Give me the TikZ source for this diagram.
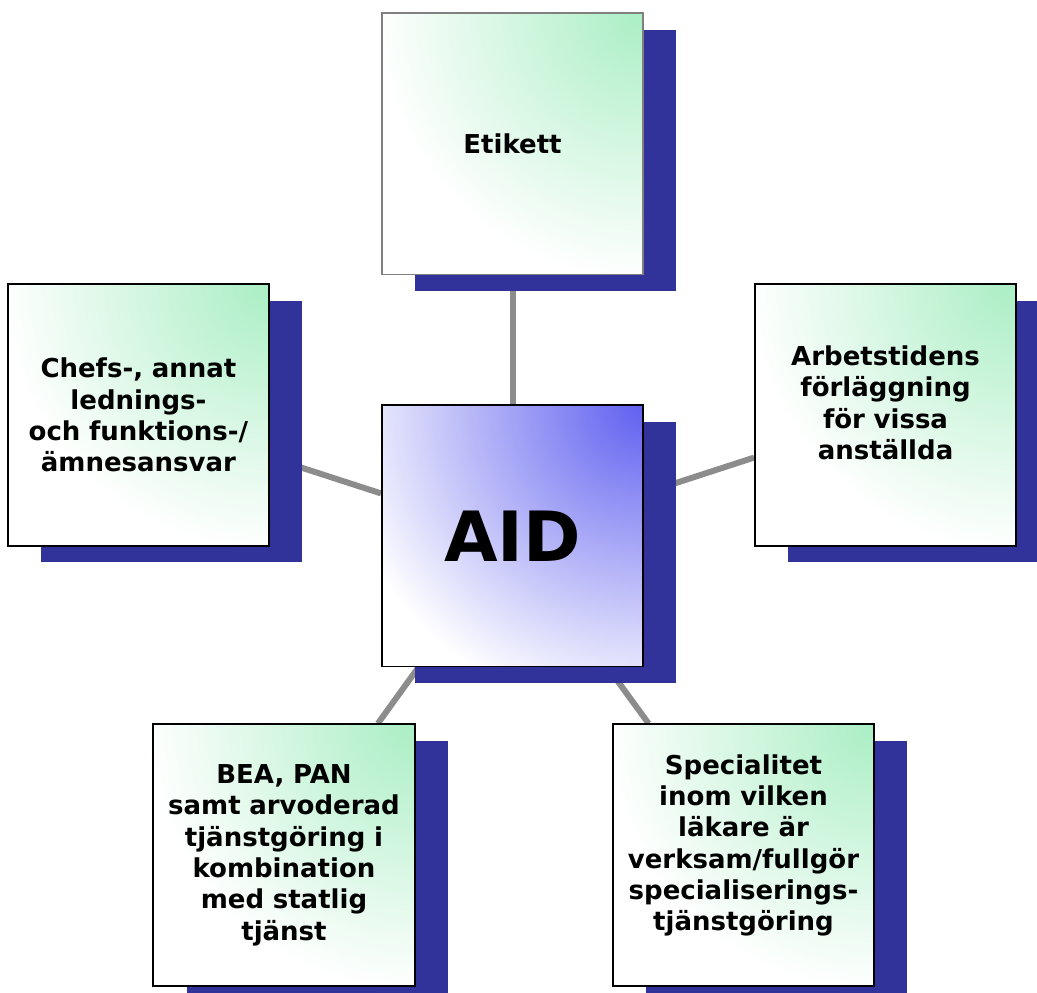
\documentclass[tikz,border=0pt]{standalone}
\usepackage{fontspec}
\setmainfont{DejaVu Sans}
\usetikzlibrary{positioning, shadows, backgrounds}

\definecolor{shadowblue}{RGB}{50,50,155}
\definecolor{boxgreen}{RGB}{170,238,196}
\definecolor{hubblue}{RGB}{96,96,240}
\definecolor{linkgray}{RGB}{140,140,140}

\begin{document}
\begin{tikzpicture}[auto,
  box/.style={rectangle, draw=black, fill=white, line width=1.3pt, minimum size=196pt, inner sep=0pt,
    text width=185pt, align=center, font=\fontsize{19.5}{23.5}\selectfont\bfseries,
    path picture={\shade[inner color=boxgreen, outer color=white] (path picture bounding box.north east) circle (200pt);},
    drop shadow={shadow xshift=25pt, shadow yshift=-12.5pt, fill=shadowblue, opacity=1}},
  hub/.style={box, font=\fontsize{52}{60}\selectfont\bfseries,
    path picture={\shade[inner color=hubblue, outer color=white] (path picture bounding box.north east) circle (235pt);}},
  link/.style={draw=linkgray, line width=4.5pt}]

\useasboundingbox (-384.4pt,-342.75pt) rectangle (393.4pt,402pt);

\node[hub] (aid) at (0,0) {AID};
\node[box, draw=gray, above=96.75pt of aid] (etikett) {Etikett};
\node[box, left=83.25pt of aid, yshift=90.75pt] (chefs) {Chefs-, annat\\ lednings-\\ och funktions-/\\ ämnesansvar};
\node[box, right=82.5pt of aid, yshift=90.75pt] (arbetstid) {Arbetstidens\\ förläggning\\ för vissa\\ anställda\\[-5pt] \mbox{}};
\node[box, below=42pt of aid, xshift=-171.4pt] (bea) {BEA, PAN\\ samt arvoderad\\ tjänstgöring i\\ kombination\\ med statlig\\ tjänst};
\node[box, below=42pt of aid, xshift=173.25pt] (spec) {Specialitet\\ inom vilken\\ läkare är\\ verksam/fullgör\\ specialiserings-\\ tjänstgöring\\[-5pt] \mbox{}};

\begin{scope}[on background layer]
\draw[link] (aid) -- (etikett);
\draw[link] (aid) -- (chefs);
\draw[link] (aid) -- (arbetstid);
\draw[link] (aid) -- (bea);
\draw[link] (aid) -- (spec);
\end{scope}

\end{tikzpicture}
\end{document}
